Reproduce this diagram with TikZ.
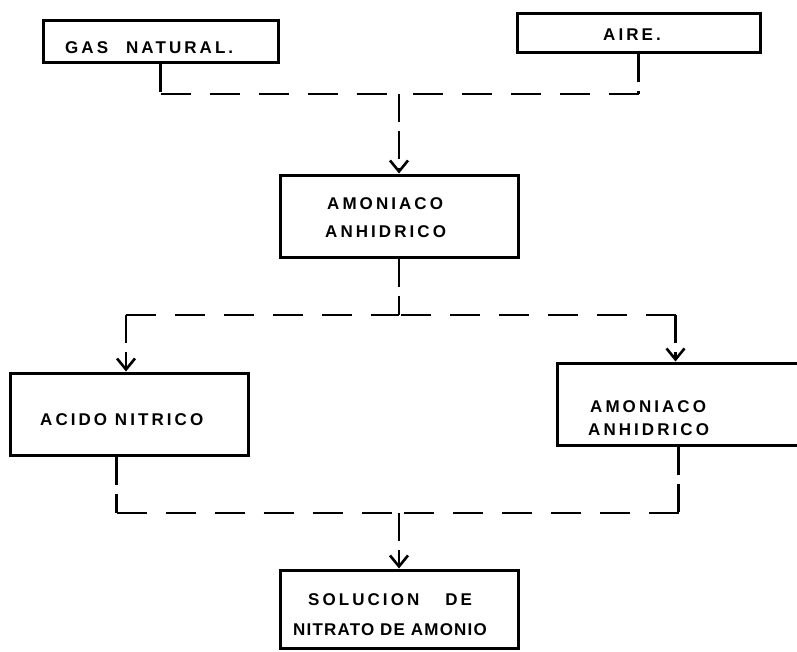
\documentclass[tikz,border=0pt]{standalone}
\usepackage{fontspec}
\newfontfamily\hand[LetterSpace=18]{Liberation Sans}
\newfontfamily\handn[LetterSpace=7]{Liberation Sans}
\usetikzlibrary{arrows.meta}
\begin{document}
\begin{tikzpicture}[x=1pt,y=-1pt,
  box/.style={draw, line width=3pt, rectangle, inner sep=0pt},
  hconn/.style={line width=2.6pt, dash pattern=on 30pt off 19pt},
  vconn/.style={line width=2.6pt, dash pattern=on 28pt off 9pt},
  arr/.style={-{Straight Barb[length=11pt,width=18pt,line width=2.6pt]}},
  lbl/.style={anchor=base west, inner sep=0pt, font=\hand\bfseries\fontsize{17}{20}\selectfont},
  lbln/.style={anchor=base west, inner sep=0pt, font=\handn\bfseries\fontsize{17}{20}\selectfont}]
\useasboundingbox (0,0) rectangle (797,651);
\clip (0,0) rectangle (797,651);
% boxes
\node[box, minimum width=235pt, minimum height=42pt] (gas) at (160.5,41) {};
\node[box, minimum width=243pt, minimum height=39pt] (aire) at (638.5,32.5) {};
\node[box, minimum width=238pt, minimum height=82pt] (amo) at (399,216) {};
\node[box, minimum width=238pt, minimum height=82pt] (acido) at (129,414) {};
\node[box, minimum width=260pt, minimum height=82pt] (amodos) at (687,404) {};
\node[box, minimum width=238pt, minimum height=78pt] (sol) at (399,609) {};
% labels
\node[lbl] (tgas) at (65,53) {GAS\hspace{18pt}NATURAL.};
\node[lbl] (taire) at (603,40) {AIRE.};
\node[lbl] (tamoa) at (327,209) {AMONIACO};
\node[lbl] (tamob) at (325,237) {ANHIDRICO};
\node[lbl] (tacido) at (40,425) {ACIDO NITRICO};
\node[lbl] (tamodosa) at (590,412) {AMONIACO};
\node[lbl] (tamodosb) at (588,435) {ANHIDRICO};
\node[lbl] (tsola) at (308,605) {SOLUCION\hspace{26pt}DE};
\node[lbln] (tsolb) at (293,635) {NITRATO DE AMONIO};
% junctions and corners
\coordinate (j1) at (399,94);
\coordinate (j2) at (399,315);
\coordinate (j3) at (399,513);
\coordinate (cgas) at (gas.south |- j1);
\coordinate (caire) at (aire.south |- j1);
\coordinate (tacid) at ([xshift=-3pt]acido.north);
\coordinate (tamod) at ([xshift=120pt]amodos.north west);
\coordinate (cacid) at (tacid |- j2);
\coordinate (camod) at (tamod |- j2);
\coordinate (bacid) at ([xshift=108pt]acido.south west);
\coordinate (bamod) at ([xshift=123pt]amodos.south west);
\coordinate (dacid) at (bacid |- j3);
\coordinate (damod) at (bamod |- j3);
% connectors
\draw[vconn] (gas.south) -- (cgas);
\draw[hconn] (cgas) -- (j1);
\draw[vconn] (aire.south) -- (caire);
\draw[hconn] (caire) -- (j1);
\draw[vconn,arr] (j1) -- (amo.north);
\draw[vconn] (amo.south) -- (j2);
\draw[hconn] (cacid) -- (j2);
\draw[hconn] (camod) -- (j2);
\draw[vconn,arr] (cacid) -- (acido.north -| tacid);
\draw[vconn,arr] (camod) -- (amodos.north -| tamod);
\draw[vconn] (bacid) -- (dacid);
\draw[hconn] (dacid) -- (j3);
\draw[vconn] (bamod) -- (damod);
\draw[hconn] (damod) -- (j3);
\draw[vconn,arr] (j3) -- (sol.north);
\end{tikzpicture}
\end{document}
